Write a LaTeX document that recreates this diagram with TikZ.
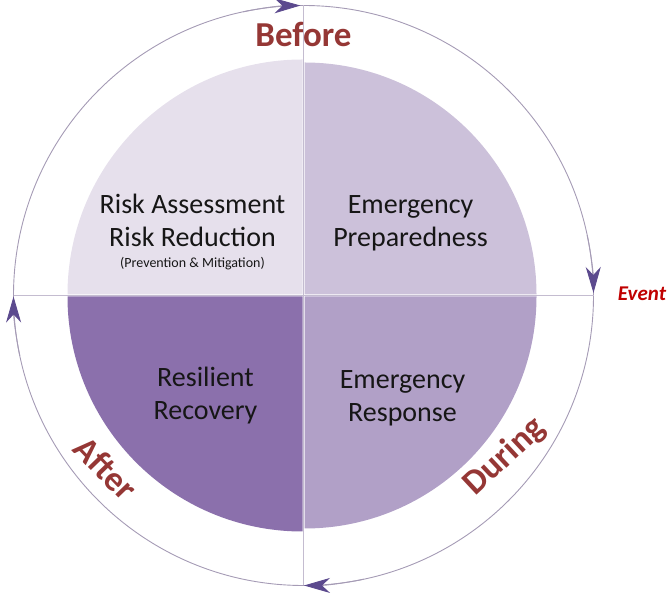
\documentclass[tikz,border=0pt]{standalone}
\usepackage{fontspec}
\setmainfont{Carlito}
\usetikzlibrary{arrows.meta}
\definecolor{qA}{HTML}{E6E0EC}
\definecolor{qB}{HTML}{CCC1DA}
\definecolor{qC}{HTML}{8B70AC}
\definecolor{qD}{HTML}{B1A0C7}
\definecolor{ringc}{HTML}{A59BB5}
\definecolor{axisc}{HTML}{C4BCD0}
\definecolor{arrowc}{HTML}{5C4A8E}
\definecolor{phase}{HTML}{953735}
\definecolor{eventc}{HTML}{C00000}
\definecolor{txt}{HTML}{161616}
\tikzset{
  ring/.style={draw=ringc, line width=0.9pt},
  axisline/.style={draw=axisc, line width=0.9pt},
  cyc/.style={draw=ringc, line width=0.9pt, -{Stealth[length=26pt,width=15pt,inset=8pt,color=arrowc]}},
  main/.style={text=txt, align=center, anchor=base, font=\fontsize{28}{33}\selectfont, inner sep=0pt},
  phaselbl/.style={text=phase, font=\bfseries\fontsize{35}{40}\selectfont, inner sep=0pt},
}
\begin{document}
\begin{tikzpicture}[x=1pt,y=1pt]
\useasboundingbox (0,0) rectangle (672,597);
\coordinate (C) at (303.5,301.5);
\coordinate (L) at (13.5,301.5);
\coordinate (R) at (593.5,301.5);
\coordinate (T) at (303.5,591.5);
\coordinate (B) at (303.5,11.5);
\draw[ring] (C) circle[radius=290];
\draw[axisline] (L) -- (R);
\draw[axisline] (T) -- (B);
% quadrants
\fill[qA] ([shift={(-1,1)}]C) -- ++(180:235) arc[start angle=180,end angle=90,radius=235] -- cycle;
\fill[qB] ([shift={(1,1)}]C) -- ++(90:232) arc[start angle=90,end angle=0,radius=232] -- cycle;
\fill[qD] ([shift={(1,-1)}]C) -- ++(0:232) arc[start angle=0,end angle=-90,radius=232] -- cycle;
\fill[qC] ([shift={(-1,-1)}]C) -- ++(270:235) arc[start angle=270,end angle=180,radius=235] -- cycle;
% cycle arrows
\draw[cyc] (C) ++(102:290) arc[start angle=102,end angle=90.6,radius=290];
\draw[cyc] (C) ++(12:290) arc[start angle=12,end angle=0.5,radius=290];
\draw[cyc] (C) ++(282:290) arc[start angle=282,end angle=270.1,radius=290];
\draw[cyc] (C) ++(192:290) arc[start angle=192,end angle=180.2,radius=290];
% texts (base anchor = baseline of last line)
\node[main] (risk) at (192.5,329) {Risk Assessment\\Risk Reduction\\[-12pt]{\fontsize{14}{16}\selectfont (Prevention \& Mitigation)}};
\node[main] (prep) at (410.5,350) {Emergency\\Preparedness};
\node[main] (recov) at (205.5,177) {Resilient\\Recovery};
\node[main] (resp) at (402.5,175) {Emergency\\Response};
\node[phaselbl, anchor=base] (before) at (303.5,550) {Before};
\node[phaselbl, rotate=-46] (after) at (106,129) {After};
\node[phaselbl, rotate=43] (during) at (505,140) {During};
\node[text=eventc, font=\bfseries\itshape\fontsize{21}{24}\selectfont, anchor=base, inner sep=0pt] (event) at (642,296.5) {Event};
\end{tikzpicture}
\end{document}
